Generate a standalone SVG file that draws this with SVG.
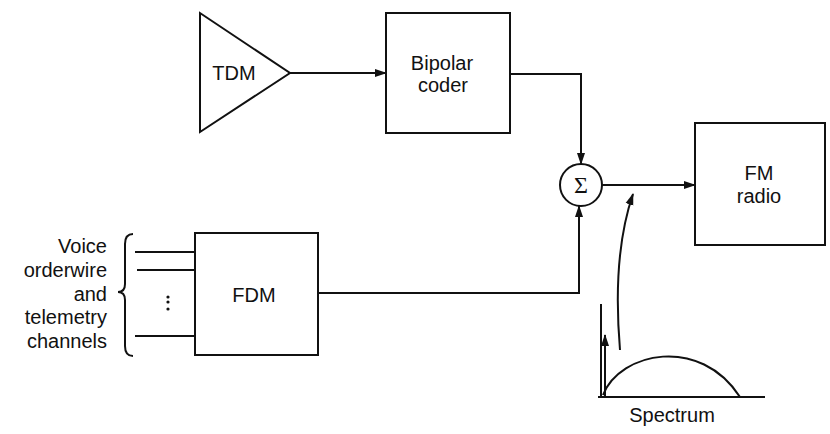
<svg xmlns="http://www.w3.org/2000/svg" width="830" height="434" viewBox="0 0 830 434">
<style>
.s{fill:none;stroke:#111;stroke-width:2}
.t{font-family:"Liberation Sans",Arial,sans-serif;font-size:20px;fill:#111}
.m{text-anchor:middle}
.r{text-anchor:end}
</style>
<defs>
<marker id="a" markerWidth="12" markerHeight="10" refX="11" refY="5" orient="auto" markerUnits="userSpaceOnUse">
<path d="M0,1 L12,5 L0,9 Z" fill="#111"/>
</marker>
</defs>
<rect width="830" height="434" fill="#fff"/>
<g id="tdm">
<polygon class="s" points="200,13 200,132 290,73"/>
<text class="t m" x="234" y="80">TDM</text>
</g>
<g id="coder">
<rect class="s" x="386" y="13" width="124" height="120"/>
<text class="t m" x="442" y="70">Bipolar</text>
<text class="t m" x="443" y="92">coder</text>
</g>
<g id="sum">
<circle class="s" cx="581" cy="185" r="21"/>
<text x="581" y="193" text-anchor="middle" font-family="'Liberation Serif','DejaVu Serif',serif" font-size="24" fill="#111">Σ</text>
</g>
<g id="fm">
<rect class="s" x="695" y="123" width="130" height="122"/>
<text class="t m" x="759" y="180">FM</text>
<text class="t m" x="759" y="203">radio</text>
</g>
<g id="fdm">
<rect class="s" x="195" y="233" width="123" height="122"/>
<text class="t m" x="254" y="302">FDM</text>
</g>
<g id="channels">
<text class="t r" x="107" y="253">Voice</text>
<text class="t r" x="107" y="277">orderwire</text>
<text class="t r" x="107" y="301">and</text>
<text class="t r" x="107" y="324">telemetry</text>
<text class="t r" x="107" y="348">channels</text>
<path class="s" d="M133,234 Q125,234 125,244 L125,284 Q125,292 118,292 Q125,292 125,300 L125,346 Q125,356 133,356"/>
<line class="s" x1="135" y1="252" x2="195" y2="252"/>
<line class="s" x1="137" y1="270" x2="195" y2="270"/>
<line class="s" x1="135" y1="336" x2="195" y2="336"/>
<circle cx="168" cy="297" r="1.6" fill="#111"/>
<circle cx="168" cy="302" r="1.6" fill="#111"/>
<circle cx="168" cy="309" r="1.6" fill="#111"/>
</g>
<g id="spectrum">
<line class="s" x1="598" y1="397" x2="765" y2="397"/>
<line class="s" x1="601" y1="304" x2="601" y2="397"/>
<line class="s" x1="605" y1="397" x2="605" y2="335" marker-end="url(#a)"/>
<path class="s" d="M603,395 C620,352 700,335 740,397"/>
<text class="t m" x="672" y="422">Spectrum</text>
</g>
<g id="connectors">
<line class="s" x1="290" y1="73" x2="386" y2="73" marker-end="url(#a)"/>
<polyline class="s" points="510,74 581,74 581,164" marker-end="url(#a)"/>
<polyline class="s" points="318,293 579,293 579,206" marker-end="url(#a)"/>
<line class="s" x1="602" y1="185" x2="695" y2="185" marker-end="url(#a)"/>
<path class="s" d="M620,350 Q612,255 633,194" marker-end="url(#a)"/>
</g>
</svg>
